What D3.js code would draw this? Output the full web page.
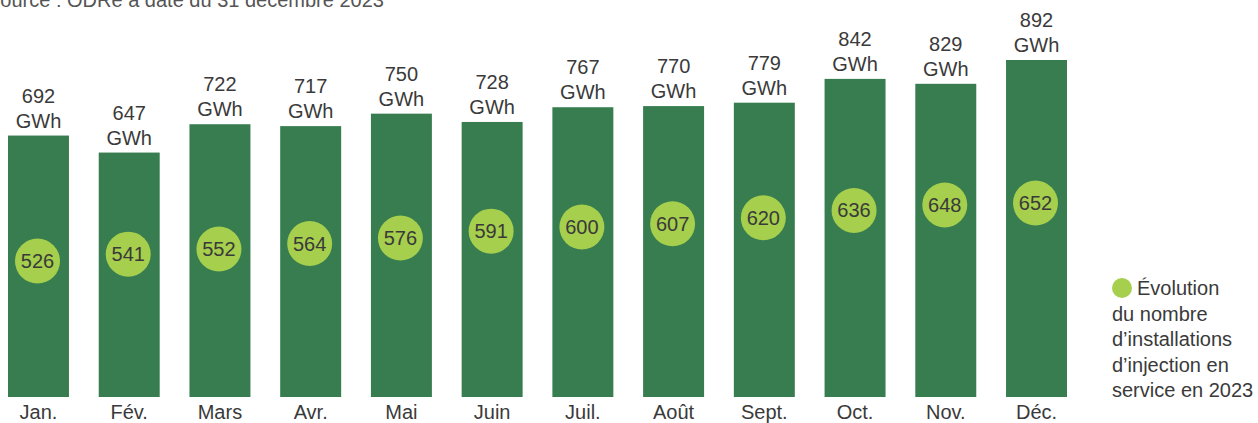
<!DOCTYPE html>
<html>
<head>
<meta charset="utf-8">
<script src="https://cdn.jsdelivr.net/npm/d3@7"></script>
<style>
  body { margin: 0; background: #fff; }
  svg { display: block; font-family: "Liberation Sans", Arial, sans-serif; }
</style>
</head>
<body>
<script>
// data
var months = ["Jan.", "Fév.", "Mars", "Avr.", "Mai", "Juin", "Juil.", "Août", "Sept.", "Oct.", "Nov.", "Déc."];
var energy = [692, 647, 722, 717, 750, 728, 767, 770, 779, 842, 829, 892];   // GWh
var installs = [526, 541, 552, 564, 576, 591, 600, 607, 620, 636, 648, 652];
var legendLines = ["Évolution", "du nombre", "d’installations", "d’injection en", "service en 2023"];
var source = "Source : ODRé à date du 31 décembre 2023";

var W = 1258, H = 423;
var barColor = "#377d50", dotColor = "#a5cf4c", textColor = "#3a3a3a";

var svg = d3.select("body").append("svg")
    .attr("width", W)
    .attr("height", H);

var x = d3.scaleBand()
    .domain(months)
    .range([8, 1067])
    .paddingInner(0.328)
    .paddingOuter(0);

var y = d3.scaleLinear()
    .domain([0, 892])
    .range([397, 60]);

// circles sit on their own scale
var yDot = d3.scaleLinear()
    .domain([500, 700])
    .range([273, 181]);

var rows = months.map(function(m, i) {
    return { month: m, gwh: energy[i], n: installs[i] };
});

svg.append("text")
    .attr("x", -13)
    .attr("y", 7)
    .attr("font-size", 20)
    .attr("fill", "#555")
    .text(source);

var g = svg.selectAll(".month")
    .data(rows)
    .enter().append("g")
    .attr("class", "month");

g.append("rect")
    .attr("x", function(d) { return x(d.month); })
    .attr("y", function(d) { return y(d.gwh); })
    .attr("width", x.bandwidth())
    .attr("height", function(d) { return y(0) - y(d.gwh); })
    .attr("fill", barColor);

// value label, two lines
var lbl = g.append("text")
    .attr("text-anchor", "middle")
    .attr("font-size", 20)
    .attr("fill", textColor);
lbl.append("tspan")
    .attr("x", function(d) { return x(d.month) + x.bandwidth() / 2; })
    .attr("y", function(d) { return y(d.gwh) - 33; })
    .text(function(d) { return d.gwh; });
lbl.append("tspan")
    .attr("x", function(d) { return x(d.month) + x.bandwidth() / 2; })
    .attr("y", function(d) { return y(d.gwh) - 8; })
    .text("GWh");

g.append("circle")
    .attr("cx", function(d) { return x(d.month) + x.bandwidth() / 2 - 1; })
    .attr("cy", function(d) { return yDot(d.n); })
    .attr("r", 22.5)
    .attr("fill", dotColor);

g.append("text")
    .attr("x", function(d) { return x(d.month) + x.bandwidth() / 2 - 1; })
    .attr("y", function(d) { return yDot(d.n) + 7; })
    .attr("text-anchor", "middle")
    .attr("font-size", 20)
    .attr("fill", textColor)
    .text(function(d) { return d.n; });

g.append("text")
    .attr("x", function(d) { return x(d.month) + x.bandwidth() / 2; })
    .attr("y", 419)
    .attr("text-anchor", "middle")
    .attr("font-size", 20)
    .attr("fill", textColor)
    .text(function(d) { return d.month; });

// legend
var leg = svg.append("g").attr("class", "legend");
leg.append("circle")
    .attr("cx", 1122)
    .attr("cy", 288)
    .attr("r", 10)
    .attr("fill", dotColor);
leg.selectAll("text")
    .data(legendLines)
    .enter().append("text")
    .attr("x", function(d, i) { return i == 0 ? 1137 : 1112; })
    .attr("y", function(d, i) { return 295 + i * 25.6; })
    .attr("font-size", 20)
    .attr("fill", textColor)
    .text(function(d) { return d; });
</script>
</body>
</html>
